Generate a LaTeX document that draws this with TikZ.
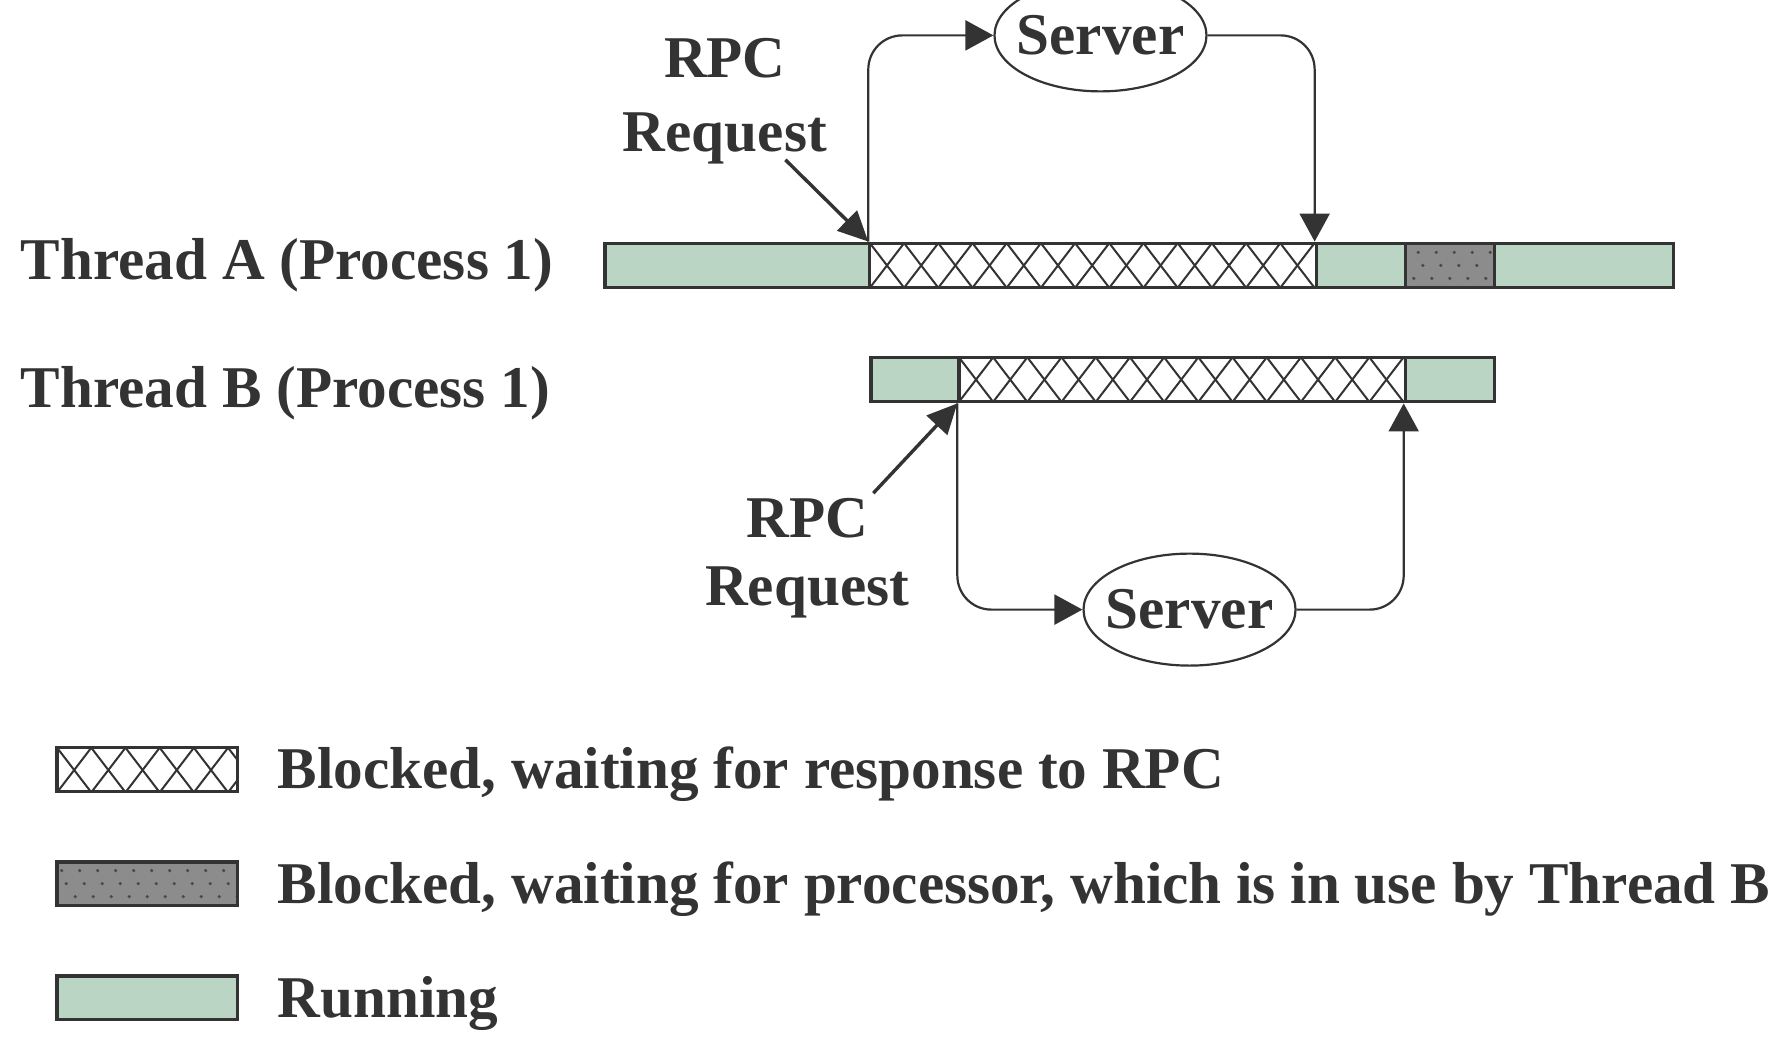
\documentclass[tikz,border=0pt]{standalone}
\usepackage{fontspec}
\setmainfont{Liberation Serif}
\usetikzlibrary{fit,shapes.geometric,arrows.meta}
\definecolor{inkc}{HTML}{333333}
\definecolor{runfill}{HTML}{BAD5C3}
\definecolor{waitfill}{HTML}{8C8C8C}
\definecolor{dotc}{HTML}{4A4A4A}
\tikzset{
  seg/.style={draw=inkc, line width=1.6pt, inner sep=0pt, rectangle},
  runseg/.style={seg, fill=runfill},
  rpcseg/.style={seg, fill=white, path picture={
    \foreach \k in {0,...,30}{
      \draw[inkc, line width=1pt] ([xshift=\k*17.1pt]path picture bounding box.north west) -- ++(17.1pt,-22.3pt);
      \draw[inkc, line width=1pt] ([xshift=\k*17.1pt+17.1pt]path picture bounding box.north west) -- ++(-17.1pt,-22.3pt);
    }}},
  waitseg/.style={seg, fill=waitfill, path picture={
    \foreach \ix in {-6,...,6}{\foreach \iy/\sx in {-1/0,0/4.5,1/2.2}{
      \fill[dotc] ([xshift=\ix*9pt+\sx*1pt, yshift=\iy*6.5pt]path picture bounding box.center) circle (0.9pt);}}}},
  txt/.style={text=inkc, font=\fontsize{29.6}{34}\selectfont\bfseries, inner sep=0pt},
  server/.style={ellipse, draw=inkc, line width=1.1pt, minimum width=106pt, minimum height=56pt,
    inner sep=0pt, text=inkc, font=\fontsize{29.6}{34}\selectfont\bfseries},
  conn/.style={draw=inkc, line width=1.1pt, rounded corners=17pt, -{Triangle[length=14pt,width=15pt]}},
  rpcarrow/.style={draw=inkc, line width=1.7pt, -{Triangle[length=15pt,width=14pt]}},
}
\begin{document}
\begin{tikzpicture}[x=0.5708pt,y=-0.5708pt]
\useasboundingbox (0,0) rectangle (1568,930);

% Thread labels
\node[txt, anchor=base west] (labA) at (18,245) {Thread A (Process 1)};
\node[txt, anchor=base west] (labB) at (18,357) {Thread B (Process 1)};

% Thread A bar
\node[runseg, fit={(530,213) (762,252)}] (a1) {};
\node[rpcseg, fit={(762,213) (1153,252)}] (a2) {};
\node[runseg, fit={(1153,213) (1231,252)}] (a3) {};
\node[waitseg, fit={(1231,213) (1309,252)}] (a4) {};
\node[runseg, fit={(1309,213) (1466,252)}] (a5) {};

% Thread B bar
\node[runseg, fit={(763,313) (840,352)}] (b1) {};
\node[rpcseg, fit={(840,313) (1231,352)}] (b2) {};
\node[runseg, fit={(1231,313) (1309,352)}] (b3) {};

% Servers
\node[server] (srvA) at (964,31) {\makebox[0pt]{Server}};
\node[server] (srvB) at (1042,534) {\makebox[0pt]{Server}};

% RPC labels
\node[txt, align=center, font=\fontsize{29.6}{37}\selectfont\bfseries] (reqA) at (635,89) {RPC\\Request};
\node[txt, align=center, font=\fontsize{29.6}{34}\selectfont\bfseries] (reqB) at (707,489) {RPC\\Request};
\coordinate (reqAtail) at (688,140);
\coordinate (reqBtail) at (765,432);

% connectors
\draw[conn] (a2.north west) |- (srvA.west);
\draw[conn] (srvA.east) -| (a3.north west);
\draw[conn] (b2.south west) |- (srvB.west);
\draw[conn] (srvB.east) -| (b3.south west);
\draw[rpcarrow] (reqAtail) -- (a2.north west);
\draw[rpcarrow] (reqBtail) -- (b2.south west);

% Legend
\node[rpcseg, fit={(50,655) (208,693)}] (lg1) {};
\node[waitseg, fit={(50,755) (208,793)}] (lg2) {};
\node[runseg, fit={(50,855) (208,893)}] (lg3) {};
\node[txt, anchor=base west] (lt1) at (243,691) {Blocked, waiting for response to RPC};
\node[txt, anchor=base west] (lt2) at (243,791) {Blocked, waiting for processor, which is in use by Thread B};
\node[txt, anchor=base west] (lt3) at (243,891) {Running};
\end{tikzpicture}
\end{document}
